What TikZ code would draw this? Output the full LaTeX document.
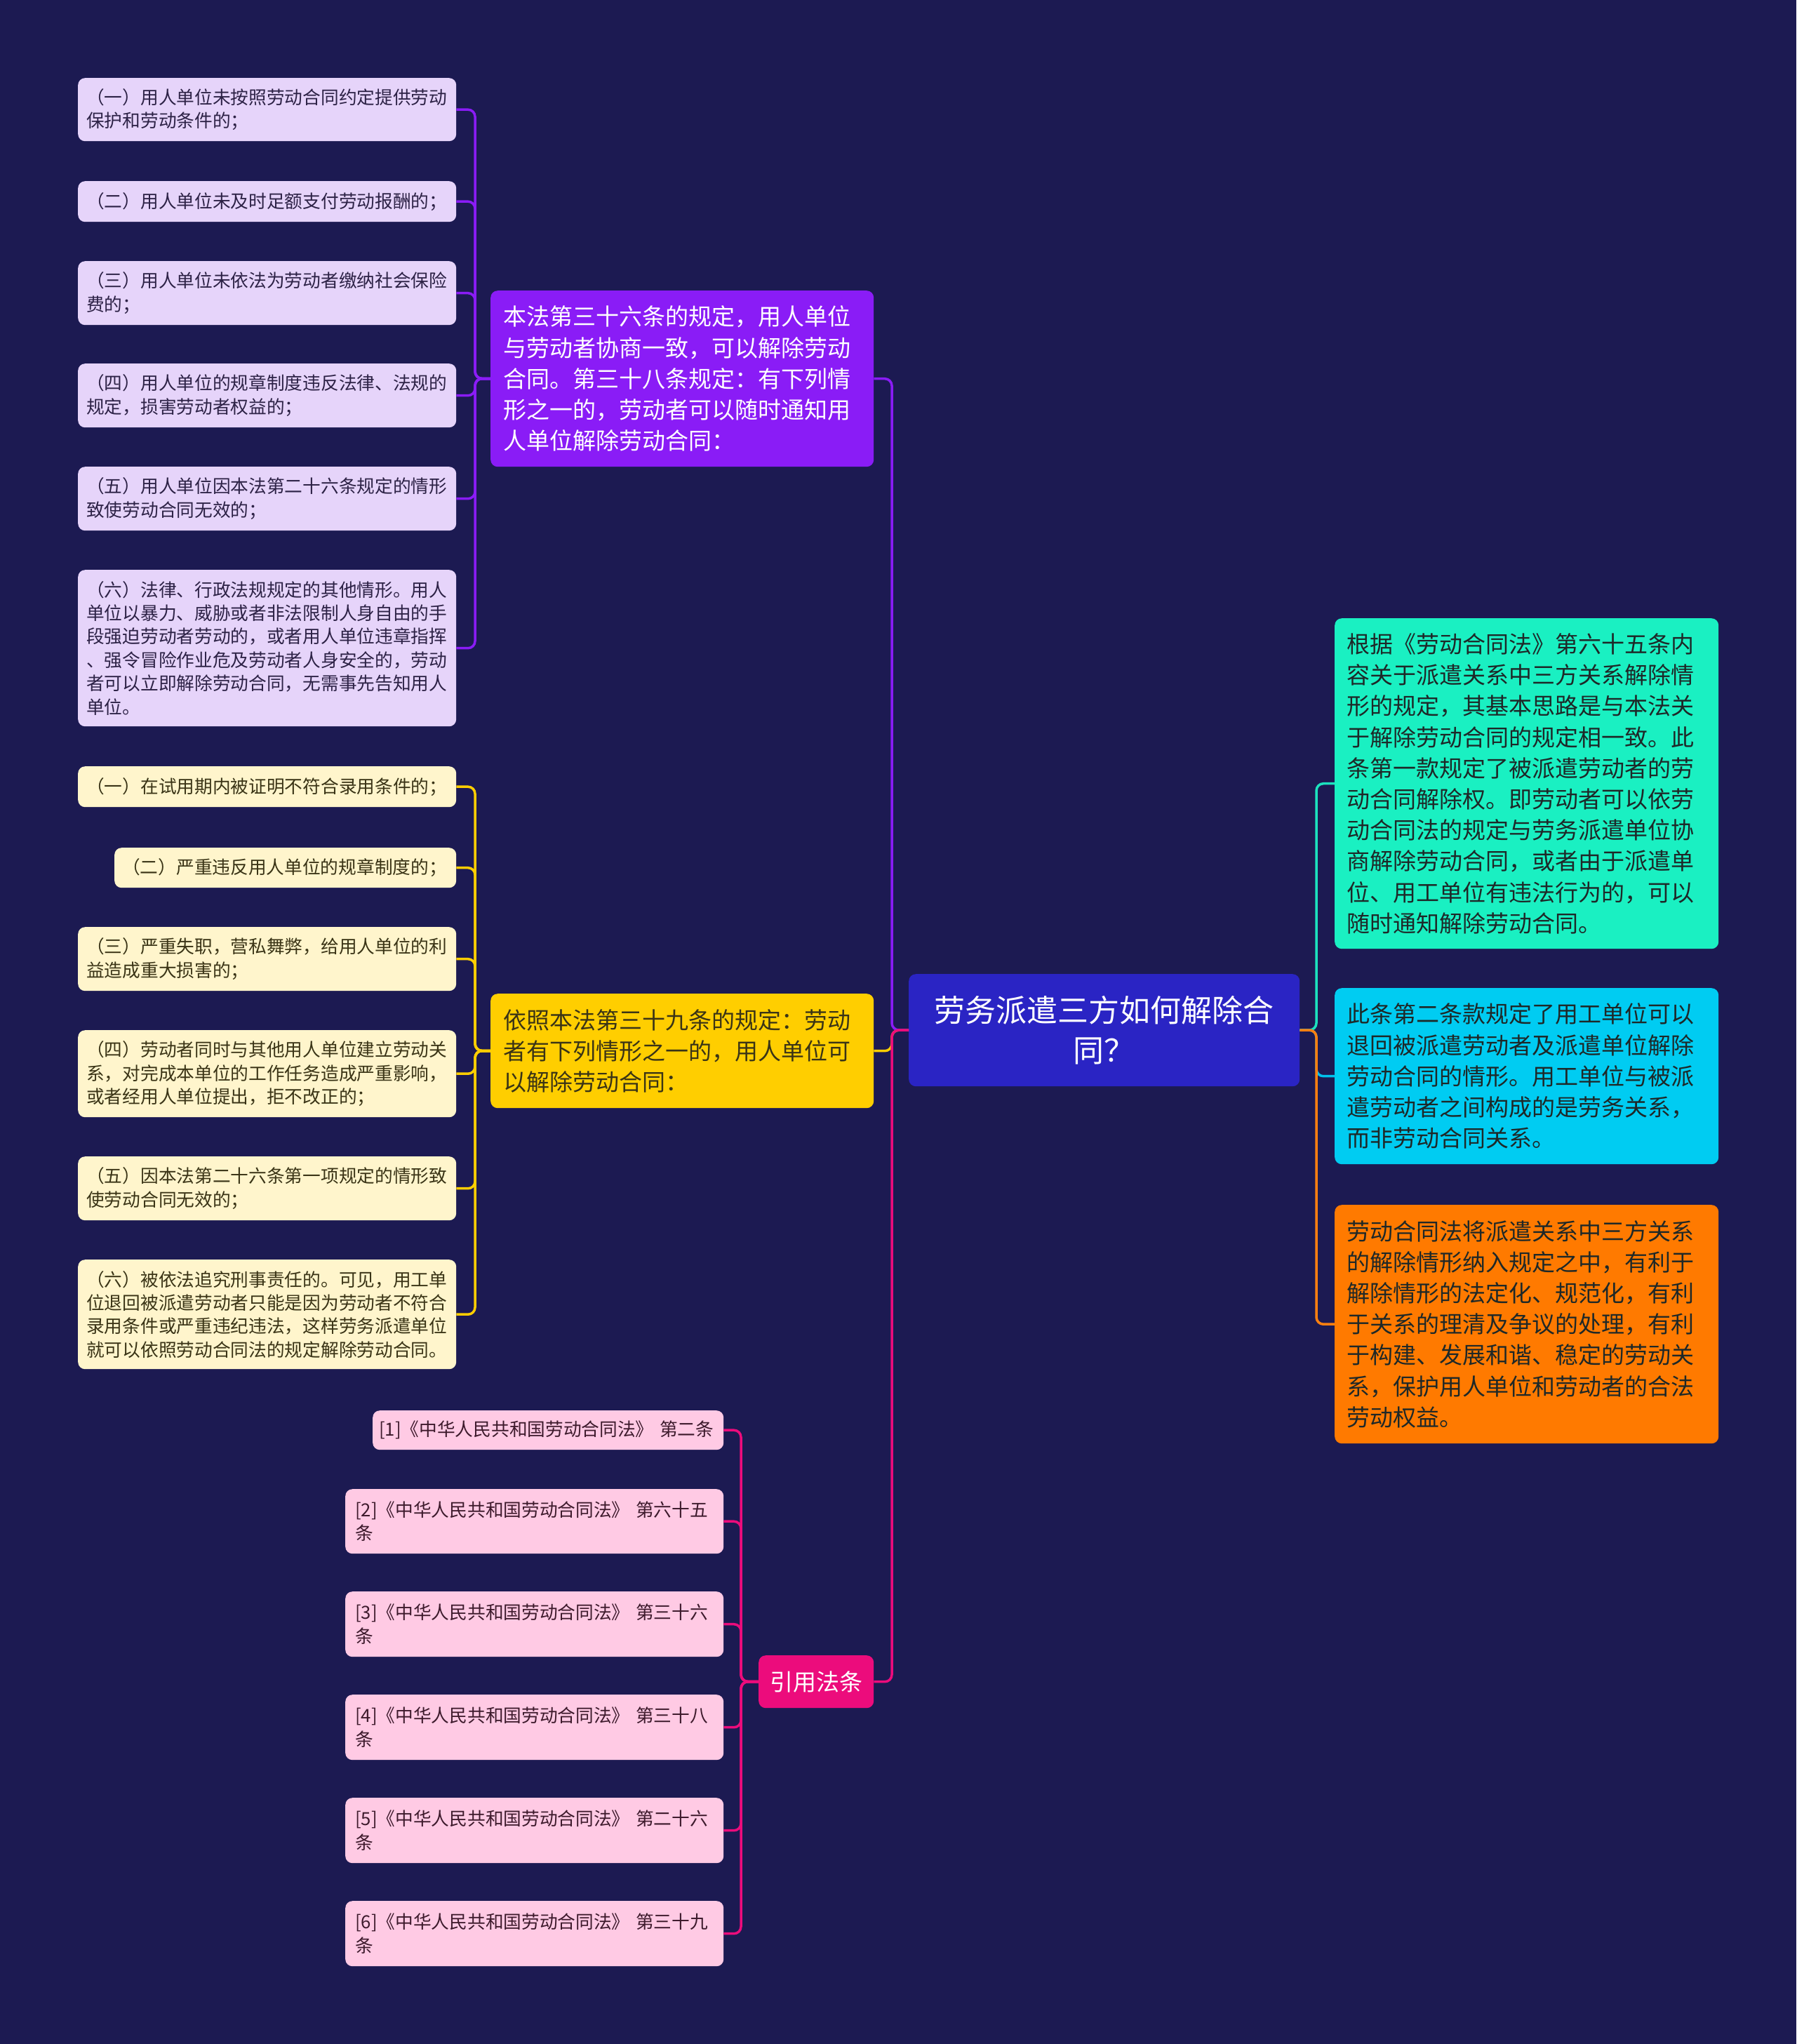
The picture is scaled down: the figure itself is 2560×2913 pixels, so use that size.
\documentclass[tikz,border=0pt]{standalone}
\usepackage{fontspec}
\setmainfont{Noto Sans CJK SC}
\definecolor{bg}{RGB}{28,26,82}
\definecolor{lvfill}{RGB}{230,212,250}
\definecolor{lvtext}{RGB}{45,34,70}
\definecolor{cpurple}{RGB}{138,28,246}
\definecolor{lyfill}{RGB}{255,245,204}
\definecolor{lytext}{RGB}{58,52,22}
\definecolor{cyellow}{RGB}{255,206,0}
\definecolor{lpfill}{RGB}{255,202,228}
\definecolor{lptext}{RGB}{61,26,44}
\definecolor{cpink}{RGB}{236,12,124}
\definecolor{croot}{RGB}{42,36,196}
\definecolor{cteal}{RGB}{26,240,194}
\definecolor{cteall}{RGB}{28,226,190}
\definecolor{ccyan}{RGB}{0,204,242}
\definecolor{ccyanl}{RGB}{0,194,236}
\definecolor{corange}{RGB}{255,122,0}
\definecolor{corangel}{RGB}{255,128,16}
\definecolor{darktext}{RGB}{30,40,40}
\tikzset{
  boxbase/.style={anchor=north west, rounded corners=10pt, inner ysep=0pt, align=left},
  leafA/.style={boxbase, fill=lvfill, text=lvtext, font=\fontsize{25.7}{33.4}\selectfont},
  leafB/.style={boxbase, fill=lyfill, text=lytext, font=\fontsize{25.7}{33.4}\selectfont},
  leafC/.style={boxbase, fill=lpfill, text=lptext, font=\fontsize{25.7}{33.4}\selectfont},
  bigbox/.style={boxbase, font=\fontsize{33}{44.2}\selectfont},
  conn/.style={line width=3.5pt, rounded corners=10pt}
}
\begin{document}
\begin{tikzpicture}[x=1pt,y=-1pt]
\useasboundingbox (0,0) rectangle (2560,2913);
\fill[bg] (0,0) rectangle (2560,2913);

% root
\node[boxbase, fill=croot, text=white, align=center, font=\fontsize{44}{57.6}\selectfont,
  minimum width=557pt, minimum height=160pt, text width=517pt, inner xsep=20pt] (root) at (1295,1388)
  {劳务派遣三方如何解除合\\同？};

% main branches left
\node[bigbox, fill=cpurple, text=white, minimum width=546pt, minimum height=251pt, text width=510pt, inner xsep=18pt] (pn) at (699,414)
  {本法第三十六条的规定，用人单位\\与劳动者协商一致，可以解除劳动\\合同。第三十八条规定：有下列情\\形之一的，劳动者可以随时通知用\\人单位解除劳动合同：};
\node[bigbox, fill=cyellow, text=lytext, minimum width=546pt, minimum height=163pt, text width=510pt, inner xsep=18pt] (yn) at (699,1416)
  {依照本法第三十九条的规定：劳动\\者有下列情形之一的，用人单位可\\以解除劳动合同：};
\node[bigbox, fill=cpink, text=white, align=center, minimum width=164pt, minimum height=75pt, inner xsep=0pt] (pkn) at (1081,2359)
  {引用法条};

% right boxes
\node[bigbox, fill=cteal, text=darktext, minimum width=547pt, minimum height=471pt, text width=513pt, inner xsep=17pt] (teal) at (1902,881)
  {根据《劳动合同法》第六十五条内\\容关于派遣关系中三方关系解除情\\形的规定，其基本思路是与本法关\\于解除劳动合同的规定相一致。此\\条第一款规定了被派遣劳动者的劳\\动合同解除权。即劳动者可以依劳\\动合同法的规定与劳务派遣单位协\\商解除劳动合同，或者由于派遣单\\位、用工单位有违法行为的，可以\\随时通知解除劳动合同。};
\node[bigbox, fill=ccyan, text=darktext, minimum width=547pt, minimum height=251pt, text width=513pt, inner xsep=17pt] (cyan) at (1902,1408)
  {此条第二条款规定了用工单位可以\\退回被派遣劳动者及派遣单位解除\\劳动合同的情形。用工单位与被派\\遣劳动者之间构成的是劳务关系，\\而非劳动合同关系。};
\node[bigbox, fill=corange, text=darktext, minimum width=547pt, minimum height=340pt, text width=513pt, inner xsep=17pt] (orange) at (1902,1717)
  {劳动合同法将派遣关系中三方关系\\的解除情形纳入规定之中，有利于\\解除情形的法定化、规范化，有利\\于关系的理清及争议的处理，有利\\于构建、发展和谐、稳定的劳动关\\系，保护用人单位和劳动者的合法\\劳动权益。};

% group 1 leaves
\node[leafA, minimum width=539pt, minimum height=90pt, text width=515pt, inner xsep=12pt] (b1) at (111,111)
  {（一）用人单位未按照劳动合同约定提供劳动\\保护和劳动条件的；};
\node[leafA, minimum width=539pt, minimum height=58pt, text width=515pt, inner xsep=12pt] (b2) at (111,258)
  {（二）用人单位未及时足额支付劳动报酬的；};
\node[leafA, minimum width=539pt, minimum height=91pt, text width=515pt, inner xsep=12pt] (b3) at (111,372)
  {（三）用人单位未依法为劳动者缴纳社会保险\\费的；};
\node[leafA, minimum width=539pt, minimum height=91pt, text width=515pt, inner xsep=12pt] (b4) at (111,518)
  {（四）用人单位的规章制度违反法律、法规的\\规定，损害劳动者权益的；};
\node[leafA, minimum width=539pt, minimum height=91pt, text width=515pt, inner xsep=12pt] (b5) at (111,665)
  {（五）用人单位因本法第二十六条规定的情形\\致使劳动合同无效的；};
\node[leafA, minimum width=539pt, minimum height=223pt, text width=515pt, inner xsep=12pt] (b6) at (111,812)
  {（六）法律、行政法规规定的其他情形。用人\\单位以暴力、威胁或者非法限制人身自由的手\\段强迫劳动者劳动的，或者用人单位违章指挥\\、强令冒险作业危及劳动者人身安全的，劳动\\者可以立即解除劳动合同，无需事先告知用人\\单位。};

% group 2 leaves
\node[leafB, minimum width=539pt, minimum height=58pt, text width=515pt, inner xsep=12pt] (c1) at (111,1092)
  {（一）在试用期内被证明不符合录用条件的；};
\node[leafB, minimum width=487pt, minimum height=57pt, text width=465pt, inner xsep=11pt] (c2) at (163,1208)
  {（二）严重违反用人单位的规章制度的；};
\node[leafB, minimum width=539pt, minimum height=91pt, text width=515pt, inner xsep=12pt] (c3) at (111,1321)
  {（三）严重失职，营私舞弊，给用人单位的利\\益造成重大损害的；};
\node[leafB, minimum width=539pt, minimum height=124pt, text width=515pt, inner xsep=12pt] (c4) at (111,1468)
  {（四）劳动者同时与其他用人单位建立劳动关\\系，对完成本单位的工作任务造成严重影响，\\或者经用人单位提出，拒不改正的；};
\node[leafB, minimum width=539pt, minimum height=91pt, text width=515pt, inner xsep=12pt] (c5) at (111,1648)
  {（五）因本法第二十六条第一项规定的情形致\\使劳动合同无效的；};
\node[leafB, minimum width=539pt, minimum height=156pt, text width=515pt, inner xsep=12pt] (c6) at (111,1795)
  {（六）被依法追究刑事责任的。可见，用工单\\位退回被派遣劳动者只能是因为劳动者不符合\\录用条件或严重违纪违法，这样劳务派遣单位\\就可以依照劳动合同法的规定解除劳动合同。};

% group 3 leaves
\node[leafC, minimum width=500pt, minimum height=56pt, text width=482pt, inner xsep=9pt] (d1) at (531,2010)
  {\mbox{[1]《中华人民共和国劳动合同法》 第二条}};
\node[leafC, minimum width=539pt, minimum height=92pt, text width=511pt, inner xsep=14pt] (d2) at (492,2122)
  {[2]《中华人民共和国劳动合同法》 第六十五\\条};
\node[leafC, minimum width=539pt, minimum height=93pt, text width=511pt, inner xsep=14pt] (d3) at (492,2268)
  {[3]《中华人民共和国劳动合同法》 第三十六\\条};
\node[leafC, minimum width=539pt, minimum height=93pt, text width=511pt, inner xsep=14pt] (d4) at (492,2415)
  {[4]《中华人民共和国劳动合同法》 第三十八\\条};
\node[leafC, minimum width=539pt, minimum height=93pt, text width=511pt, inner xsep=14pt] (d5) at (492,2562)
  {[5]《中华人民共和国劳动合同法》 第二十六\\条};
\node[leafC, minimum width=539pt, minimum height=93pt, text width=511pt, inner xsep=14pt] (d6) at (492,2709)
  {[6]《中华人民共和国劳动合同法》 第三十九\\条};

% junction coordinates
\coordinate (jl) at (1271,1468);
\coordinate (jr) at (1876,1468);
\coordinate (bA) at (677,539.5);
\coordinate (cA) at (677,1497.5);
\coordinate (dA) at (1056,2396.5);

% root to left branches
\draw[conn, cyellow] (root.west) -- (jl) |- (yn.east);
\draw[conn, cpurple] (root.west) -- (jl) |- (pn.east);
\draw[conn, cpink] (root.west) -- (jl) |- (pkn.east);

% root to right boxes
\draw[conn, cteall] (root.east) -- (jr) |- (teal.west);
\draw[conn, ccyanl] (root.east) -- (jr) |- (cyan.west);
\draw[conn, corangel] (root.east) -- (jr) |- (orange.west);

% group 1 connectors
\foreach \n in {b1,b2,b3,b4,b5,b6}
  \draw[conn, cpurple] (\n.east) -| (bA) -- (pn.west);
% group 2 connectors
\foreach \n in {c1,c2,c3,c4,c5,c6}
  \draw[conn, cyellow] (\n.east) -| (cA) -- (yn.west);
% group 3 connectors
\foreach \n in {d1,d2,d3,d4,d5,d6}
  \draw[conn, cpink] (\n.east) -| (dA) -- (pkn.west);
\end{tikzpicture}
\end{document}
